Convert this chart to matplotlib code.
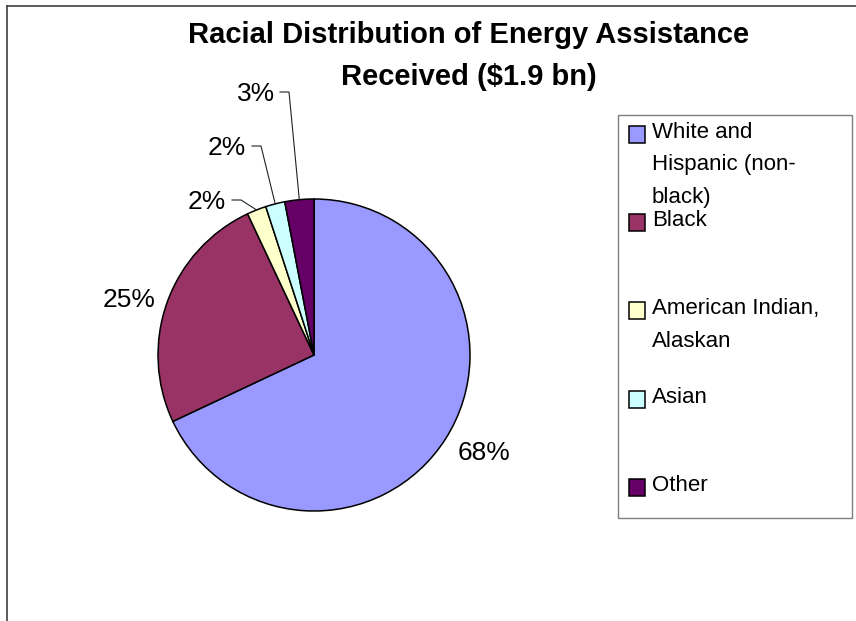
import matplotlib
matplotlib.use("Agg")
import matplotlib.pyplot as plt
from matplotlib.patches import Rectangle
from matplotlib.lines import Line2D
import numpy as np

plt.rcParams['font.family'] = ['Liberation Sans', 'DejaVu Sans']

# ---- data -------------------------------------------------------------
title_lines = ["Racial Distribution of Energy Assistance", "Received ($1.9 bn)"]
categories = ["White and\nHispanic (non-\nblack)", "Black",
              "American Indian,\nAlaskan", "Asian", "Other"]
shares = [68, 25, 2, 2, 3]
colors = ["#9999FF", "#993366", "#FFFFCC", "#CCFFFF", "#660066"]

# ---- layout (pixels) ---------------------------------------------------
W, H = 856, 621
cx, cy, rad = 314, 355, 156                      # pie centre and radius
label_xy = [(484, 460), (129, 307), (207, 209), (227, 155), (256, 101)]
leader_start = [None, None, (232, 200), (252, 146), (280, 92)]
leader_tick = 9
legend_first_base = 138      # baseline of first legend entry
legend_step = 88.2           # distance between legend entries
legend_line_gap = 32.5       # baseline distance inside a wrapped entry

fig = plt.figure(figsize=(W / 100, H / 100), dpi=100)
fig.patch.set_facecolor("white")


def fx(px):
    return px / W


def fy(py):
    return 1 - py / H


ax = fig.add_axes([fx(cx - rad), fy(cy + rad), 2 * rad / W, 2 * rad / H])
wedges, _ = ax.pie(shares, colors=colors, startangle=90, counterclock=False,
                   wedgeprops=dict(edgecolor="black", linewidth=1.1))
ax.set_xlim(-1, 1)
ax.set_ylim(-1, 1)
ax.set_aspect("equal")
ax.axis("off")


def to_data(px, py):
    return (px - cx) / rad, (cy - py) / rad


# percentage labels and leader lines
for i, (w, v) in enumerate(zip(wedges, shares)):
    lx, ly = to_data(*label_xy[i])
    ax.text(lx, ly, f"{v}%", ha="center", va="baseline", fontsize=19,
            color="black", clip_on=False)
    if leader_start[i] is not None:
        sx, sy = leader_start[i]
        mid = np.deg2rad((w.theta1 + w.theta2) / 2)
        ex, ey = np.cos(mid), np.sin(mid)
        p0 = to_data(sx, sy)
        p1 = to_data(sx + leader_tick, sy)
        ax.add_line(Line2D([p0[0], p1[0], ex], [p0[1], p1[1], ey],
                           color="#222222", linewidth=0.8, clip_on=False))

# title
fig.text(fx(469), fy(43), title_lines[0], ha="center", va="baseline",
         fontsize=21, fontweight="bold")
fig.text(fx(469), fy(85), title_lines[1], ha="center", va="baseline",
         fontsize=21, fontweight="bold")

# chart-area frame (left and top edges)
fig.add_artist(Line2D([fx(7.5), fx(7.5)], [fy(6), 0], transform=fig.transFigure,
                      color="#404040", linewidth=1.2))
fig.add_artist(Line2D([fx(7.5), 1], [fy(6), fy(6)], transform=fig.transFigure,
                      color="#404040", linewidth=1.2))

# legend
fig.add_artist(Rectangle((fx(618), fy(518)), (852 - 618) / W, (518 - 115) / H,
                         transform=fig.transFigure, facecolor="white",
                         edgecolor="#7f7f7f", linewidth=1.0))
for i, (lab, col) in enumerate(zip(categories, colors)):
    base = legend_first_base + legend_step * i
    fig.add_artist(Rectangle((fx(629), fy(base + 5)), 16 / W, 17 / H,
                             transform=fig.transFigure, facecolor=col,
                             edgecolor="black", linewidth=1.1))
    n_lines = lab.count("\n") + 1
    # multi-line text is anchored on the baseline of its last line
    last_base = base + (n_lines - 1) * legend_line_gap
    fig.text(fx(652), fy(last_base), lab, ha="left", va="baseline",
             fontsize=16, linespacing=1.73)

fig.savefig("out.png", dpi=100)
